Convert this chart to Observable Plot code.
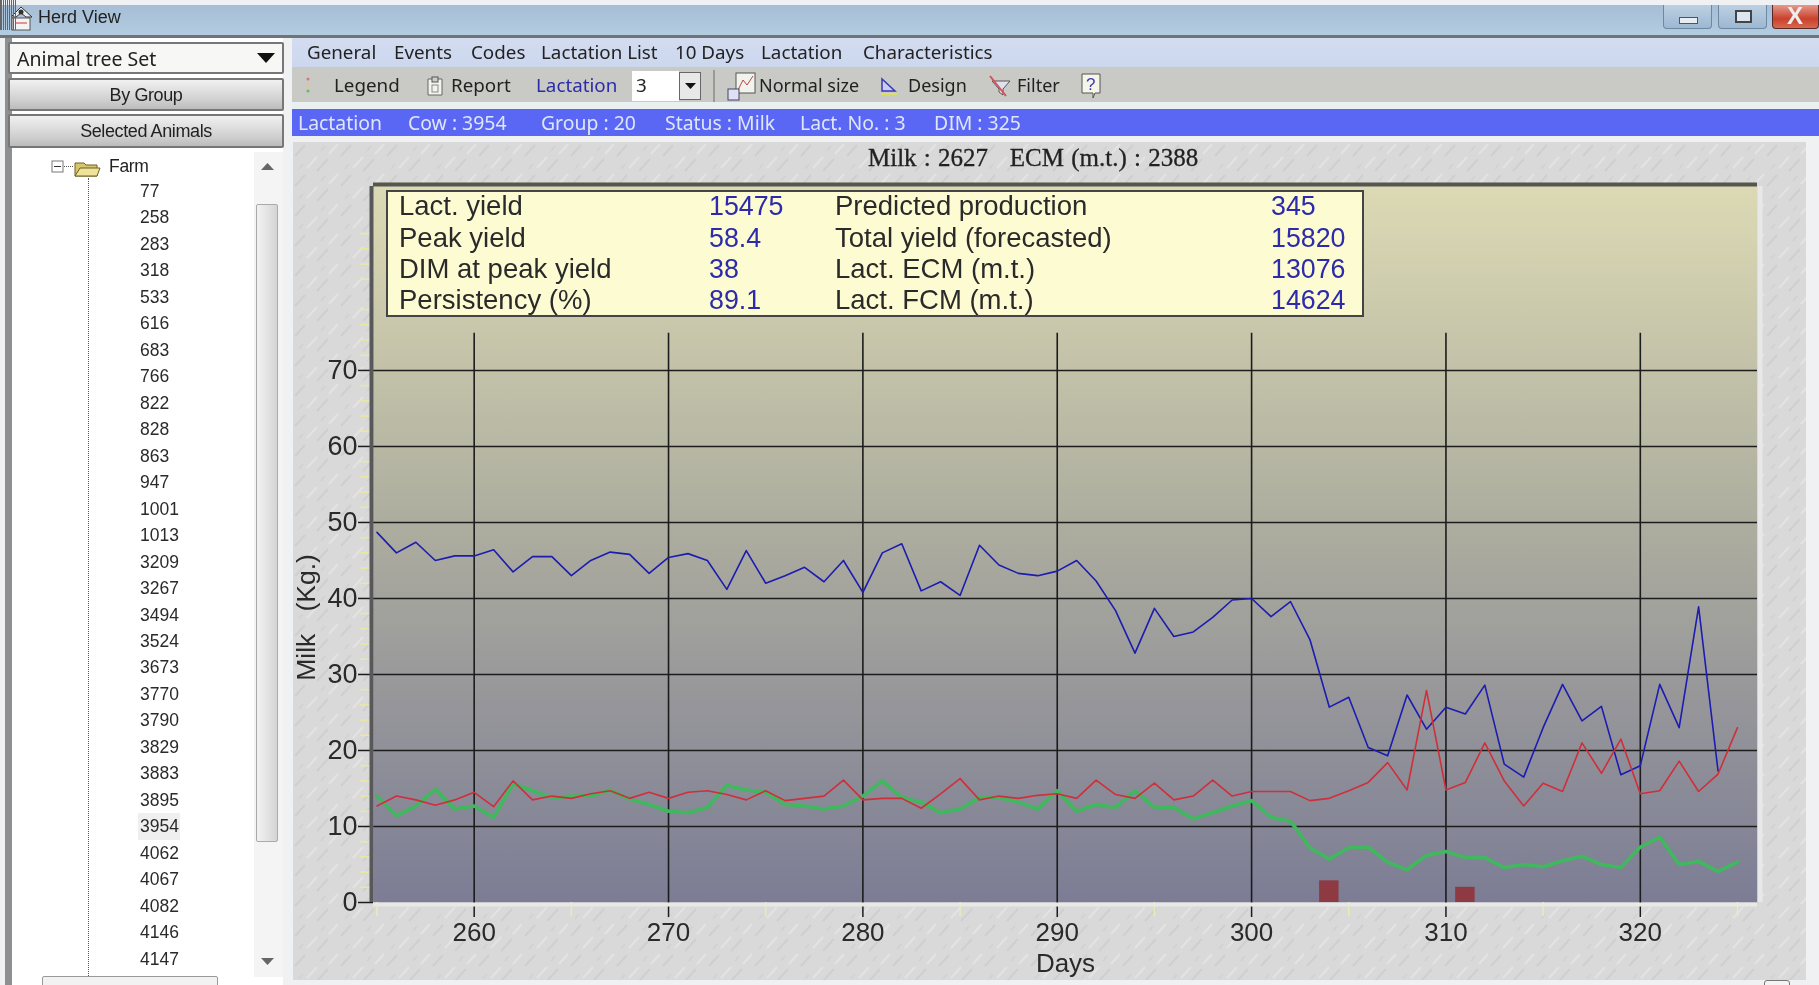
<!DOCTYPE html>
<html>
<head>
<meta charset="utf-8">
<script src="https://cdn.jsdelivr.net/npm/d3@7"></script>
<script src="https://cdn.jsdelivr.net/npm/@observablehq/plot@0.6"></script>
<style>
html,body{margin:0;padding:0;background:#fff;}
#page{position:relative;width:1819px;height:985px;overflow:hidden;background:#f0f1f2;font-family:"Noto Sans",sans-serif;color:#222;filter:blur(.45px);}
#page>*,.a{position:absolute;white-space:nowrap;}
.t{font-size:18.8px;line-height:24px;transform:translateY(-50%);}
#title{left:0;top:5px;width:1819px;height:30px;background:linear-gradient(#a6bdd6,#b4cce0);}
#titleline{left:0;top:35px;width:1819px;height:3px;background:#6f7478;}
#menu{left:292px;top:38px;width:1527px;height:29px;background:linear-gradient(#d3dcf0,#ccd7ee);}
#tools{left:292px;top:67px;width:1527px;height:35px;background:#c9c9c5;}
#strip{left:292px;top:102px;width:1527px;height:7px;background:#eaf0f0;}
#status{left:292px;top:109px;width:1527px;height:27px;background:#5a67f5;}
#texture{left:293px;top:142px;width:1513px;height:838px;background-color:#d9d9d9;
background-image:url("data:image/svg+xml,%3Csvg xmlns='http://www.w3.org/2000/svg' width='46' height='30'%3E%3Cg stroke-width='2' fill='none'%3E%3Cpath d='M2 14L12 3M24 29L35 17' stroke='%23cfcfcf'/%3E%3Cpath d='M14 26L24 15M36 12L45 2' stroke='%23e3e3e3'/%3E%3Cpath d='M6 27L10 22M28 9L32 4' stroke='%23d2d2d2'/%3E%3C/g%3E%3C/svg%3E");}
.winbtn{top:5px;height:24px;width:49px;border:1px solid #6d88a3;border-top:none;border-radius:0 0 4px 4px;box-sizing:border-box;background:linear-gradient(#bcd0e2,#9db8d2);}
#left{left:5px;top:38px;width:278px;height:947px;background:#fff;}
#leftborder{left:5px;top:38px;width:7px;height:947px;background:#8d8f90;}
.btn{left:8px;width:276px;box-sizing:border-box;border:2px solid #777;border-radius:2px;background:linear-gradient(#f1f1f1,#cfcfcf 70%,#bcbcbc);text-align:center;font-family:"Liberation Sans",sans-serif;font-size:18px;letter-spacing:-.4px;color:#222;}
#tree{left:140px;top:178px;font-family:"Liberation Sans",sans-serif;font-size:17.5px;line-height:26.48px;color:#2a2a2a;}
.conn{left:88px;top:178px;width:0;height:800px;border-left:1px dotted #555;}
.row{height:26.48px;}
.row.sel{background:#efefef;width:40px;margin-left:-2px;padding-left:2px;}
.dash{left:90px;width:16px;height:0;border-top:1px dotted #666;}
#scroll{left:254px;top:152px;width:29px;height:825px;background:#f4f4f4;}
#thumb{left:256px;top:204px;width:22px;height:638px;border:1px solid #aaa;box-sizing:border-box;border-radius:2px;background:linear-gradient(90deg,#f2f2f2,#d5d5d5);}
#info{left:386px;top:190px;width:978px;height:127px;box-sizing:border-box;border:2px solid #444;background:#fdfbd2;font-family:"Liberation Sans",sans-serif;font-size:27.5px;color:#2a2a2a;}
#info span{position:absolute;line-height:30px;transform:translateY(-50%);white-space:nowrap;}
#info .v{color:#2b2bac;font-size:26.8px;}
#head{left:868px;top:158px;font-family:"Liberation Serif",serif;font-size:25px;line-height:28px;transform:translateY(-50%);color:#222;-webkit-text-stroke:.3px #222;word-spacing:1px;}
svg{display:block;}
</style>
</head>
<body>
<div id="page">
  <div id="title"></div>
  <svg class="a" style="left:8px;top:5px" width="26" height="26" viewBox="0 0 26 26"><path d="M3 12L13 2L24 12L18 12L13 8L8 12Z" fill="#eee" stroke="#333"/><rect x="4" y="13" width="18" height="12" fill="#f4f4f4" stroke="#555"/><circle cx="13" cy="7" r="2.5" fill="#333"/><path d="M7 18h12" stroke="#c33"/></svg>
  <div class="t" style="left:38px;top:17px;font-family:'Liberation Sans';font-size:18px">Herd View</div>
  <div class="winbtn" style="left:1663px"></div><div class="a" style="left:1679px;top:17px;width:17px;height:5px;background:#e8edf2;border:1px solid #555"></div>
  <div class="winbtn" style="left:1718px"></div><div class="a" style="left:1735px;top:10px;width:13px;height:9px;border:2px solid #444;background:#dce6ef"></div>
  <div class="winbtn" style="left:1772px;width:47px;background:linear-gradient(#e69a8c,#c9412c 60%,#d9694f);border-color:#5a2a2a"></div>
  <div class="t" style="left:1787px;top:16px;color:#eee;font-weight:bold;font-family:'Liberation Sans';font-size:24px">X</div>
  <div id="titleline"></div>
  <div id="left"></div><div id="leftborder"></div>
  <div class="btn" style="top:42px;height:32px;background:#f7f7f5;text-align:left;padding-left:7px;line-height:30px;font-family:'Noto Sans';font-size:19.500px;letter-spacing:0;">Animal tree Set</div>
  <svg class="a" style="left:257px;top:52px" width="18" height="12"><path d="M0 1H18L9 11Z" fill="#111"/></svg>
  <div class="btn" style="top:78px;height:33px;line-height:30px">By Group</div>
  <div class="btn" style="top:114px;height:34px;line-height:31px">Selected Animals</div>
  <div class="conn"></div>
  <div id="dashes"></div>
  <svg class="a" style="left:51px;top:158px" width="50" height="20"><rect x="1" y="3" width="11" height="11" fill="#fff" stroke="#777"/><path d="M3 8.500h7" stroke="#333"/><path d="M13 8.500h10" stroke="#555" stroke-dasharray="1 1"/><path d="M24 5h9l2 2h11v11H24Z" fill="#d9c66a" stroke="#6c6020"/><path d="M24 18l5-8h20l-3 8Z" fill="#efe39b" stroke="#6c6020"/></svg>
  <div class="t" style="left:109px;top:166px;font-family:'Liberation Sans';font-size:17.500px;letter-spacing:-.3px">Farm</div>
  <div id="tree"></div>
  <div id="scroll"></div><div id="thumb"></div>
  <svg class="a" style="left:261px;top:162px" width="14" height="9"><path d="M0 8H13L6.500 1Z" fill="#666"/></svg>
  <svg class="a" style="left:261px;top:957px" width="14" height="9"><path d="M0 1H13L6.500 8Z" fill="#666"/></svg>
  <div class="a" style="left:42px;top:976px;width:174px;height:12px;border:1px solid #999;border-radius:2px;background:#f2f2f2"></div>
  <div id="menu"></div><div id="tools"></div><div id="strip"></div><div id="status"></div>
  <svg class="a" style="left:304px;top:75px" width="8" height="20"><circle cx="4" cy="4" r="1.500" fill="#d77"/><circle cx="4" cy="10" r="1.500" fill="#dc7"/><circle cx="4" cy="16" r="1.500" fill="#6b6"/></svg>
  <svg class="a" style="left:425px;top:75px" width="20" height="22"><path d="M3 4h14v16H3Z" fill="#f4f4ee" stroke="#666"/><rect x="7" y="2" width="6" height="5" fill="#ccc" stroke="#555"/><rect x="7" y="10" width="6" height="7" fill="none" stroke="#888"/></svg>
  <div class="a" style="left:632px;top:71px;width:47px;height:30px;background:#fff"></div>
  <div class="a" style="left:679px;top:72px;width:22px;height:28px;box-sizing:border-box;border:1px solid #666;background:#e8e8e8"></div>
  <svg class="a" style="left:685px;top:83px" width="12" height="7"><path d="M0 0H11L5.500 6Z" fill="#111"/></svg>
  <div class="a" style="left:713px;top:70px;width:2px;height:32px;background:#9a9a96"></div>
  <svg class="a" style="left:727px;top:72px" width="30" height="30"><rect x="9" y="1" width="19" height="20" fill="#f3f3ee" stroke="#555"/><path d="M11 18L16 8L20 13L26 4" fill="none" stroke="#b44"/><rect x="1" y="17" width="11" height="11" fill="#dfe0f4" stroke="#446"/></svg>
  <svg class="a" style="left:879px;top:76px" width="20" height="20"><path d="M3 3V15H16Z" fill="#c8cdf2" stroke="#3a3ab0" stroke-width="1.500"/><path d="M2 18H18" stroke="#dede60" stroke-width="2"/></svg>
  <svg class="a" style="left:988px;top:74px" width="24" height="24"><path d="M4 7H22L15 15V21L11 18V15Z" fill="#dfe2ee" stroke="#555"/><path d="M2 2L18 22" stroke="#d8505a" stroke-width="2"/></svg>
  <svg class="a" style="left:1080px;top:72px" width="22" height="28"><path d="M2 2H20V21H15L13 26V21H2Z" fill="#f5f5ea" stroke="#555"/><text x="6" y="18" font-size="17" font-family="Liberation Sans" fill="#3a3ab0">?</text></svg>
  <div id="menuText"></div>
  <div id="texture"></div>
  <div id="head">Milk : 2627&nbsp;&nbsp;&nbsp;ECM (m.t.) : 2388</div>
  <div id="chart"></div>
  <div id="info"></div>
  <div class="a" style="left:1764px;top:980px;width:24px;height:10px;border:1px solid #777;border-radius:3px;background:#f4f4f4"></div>
</div>
<script>
const cowIds = [77,258,283,318,533,616,683,766,822,828,863,947,1001,1013,3209,3267,3494,3524,3673,3770,3790,3829,3883,3895,3954,4062,4067,4082,4146,4147];
const selectedCow = 3954;
const menuLabels = ["General","Events","Codes","Lactation List","10 Days","Lactation","Characteristics"];
const toolLabels = ["Legend","Report","Lactation","3","Normal size","Design","Filter"];
const statusLabels = ["Lactation","Cow : 3954","Group : 20","Status : Milk","Lact. No. : 3","DIM : 325"];
const infoNames1 = ["Lact. yield","Peak yield","DIM at peak yield","Persistency (%)"];
const infoValues1 = ["15475","58.4","38","89.1"];
const infoNames2 = ["Predicted production","Total yield (forecasted)","Lact. ECM (m.t.)","Lact. FCM (m.t.)"];
const infoValues2 = ["345","15820","13076","14624"];

const firstDay = 255;
const milkBlue = [48.7,46,47.4,45,45.6,45.6,46.4,43.5,45.5,45.5,43,45,46.1,45.8,43.3,45.4,45.9,45,41.2,46.3,42,43,44.1,42.2,45,40.8,
  46,47.2,41,42.2,40.4,47,44.4,43.3,43,43.6,45,42.3,38.4,32.8,38.7,35,35.6,37.5,39.8,40,37.6,39.6,34.6,25.7,27,20.4,19.3,27.3,22.8,
  25.7,24.8,28.6,18.2,16.5,23,28.7,23.9,25.8,16.8,18,28.7,23,38.9,17.3];
const milkRed = [12.7,14,13.5,12.8,13.5,14.5,12.6,16,13.5,14,13.7,14.3,14.7,13.7,14.5,13.7,14.5,14.7,14.2,13.5,14.7,13.4,13.7,14,16.1,13.5,
  13.7,13.7,12.4,14.3,16.3,13.5,14,13.7,14.1,14.3,13.7,16.1,14.2,13.7,15.7,13.5,14,16.1,14,14.6,14.6,14.6,13.4,13.7,14.7,15.8,18.4,14.8,27.9,
  14.8,15.8,21,16,12.7,15.7,14.6,21,17,21.5,14.3,14.7,18.6,14.6,16.9,23];
const milkGreen = [14,11.4,12.7,14.9,12.3,12.7,11.2,15.6,14.7,13.8,14,14,14.8,13.6,12.9,12,11.8,12.5,15.4,14.8,14.5,12.9,12.7,12.3,12.7,14,
  16,13.8,13.2,11.8,12.3,13.8,13.8,13.2,12.3,14.7,12,12.9,12.5,14.7,12.5,12.5,11,11.8,12.7,13.4,11.2,10.7,7.2,5.7,7.2,7.3,5.3,4.3,6.2,
  6.7,5.9,5.9,4.6,5,4.7,5.5,6.1,5,4.6,7.3,8.6,5,5.4,4.1,5.3];
const eventDays = [304,311];
const eventHeights = [2.85,2];
const majorDays = [260,270,280,290,300,310,320];
const minorDays = [255,265,275,285,295,305,315,325];
const yTicks = [0,10,20,30,40,50,60,70];
const yGrid = [10,20,30,40,50,60,70];
const yMinor = [2,4,6,8,12,14,16,18,22,24,26,28,32,34,36,38,42,44,46,48,52,54,56,58,62,64,66,68,72,74,76,78,82,84,86,88];

const toSeries = a => a.map((v,i)=>({day:firstDay+i,v}));
const xDomain=[254.82,326.03], yDomain=[0,94.2], gridTop=74.9;

const chart = Plot.plot({
  width:1529,height:825,
  marginLeft:83,marginRight:62,marginTop:26,marginBottom:83,
  x:{domain:xDomain,axis:null},
  y:{domain:yDomain,axis:null},
  style:{background:"transparent",overflow:"visible",fontFamily:"'Liberation Sans',sans-serif",color:"#2a2a2a"},
  marks:[
    () => {
      const defs=d3.create("svg:defs");
      const g=defs.append("linearGradient").attr("id","panelGrad").attr("x1",0).attr("x2",0).attr("y1",0).attr("y2",1);
      [[0,"#dcdab4"],[.47,"#adad9f"],[.72,"#96969a"],[1,"#7c7d95"]].forEach(([o,c])=>g.append("stop").attr("offset",o).attr("stop-color",c));
      return defs.node();
    },
    Plot.frame({fill:"url(#panelGrad)",stroke:null}),
    Plot.ruleY(yMinor,{x1:xDomain[0],x2:xDomain[0],insetLeft:-13,stroke:"#e9e9a0",strokeWidth:1.5}),
    Plot.ruleX(minorDays,{y1:0,y2:0,insetBottom:-14,stroke:"#ecebb0",strokeWidth:1.5}),
    Plot.axisY({ticks:yTicks,anchor:"left",label:null,tickSize:15,tickPadding:1,fontSize:27,stroke:"#1c1c1c",strokeWidth:1.5}),
    Plot.axisX({ticks:majorDays,anchor:"bottom",label:"Days",labelArrow:"none",labelAnchor:"center",labelOffset:69,tickSize:15,tickPadding:5,fontSize:26,stroke:"#1c1c1c",strokeWidth:1.5,tickFormat:d=>String(d)}),
    Plot.ruleY(yGrid,{stroke:"#1c1c1c",strokeWidth:1.6}),
    Plot.ruleX(majorDays,{y1:0,y2:gridTop,stroke:"#1c1c1c",strokeWidth:1.6}),
    Plot.ruleX([xDomain[1]],{stroke:"#e8e8ea",strokeWidth:5,dx:2.5}),
    Plot.ruleY([0],{stroke:"#e8e8e6",strokeWidth:4,dy:2}),
    Plot.ruleX([xDomain[0]],{stroke:"#58585a",strokeWidth:4,dx:-2}),
    Plot.ruleY([yDomain[1]],{stroke:"#56564a",strokeWidth:4,dy:-2}),
    Plot.rectY(eventDays.map((d,i)=>({d,h:eventHeights[i]})),{x1:r=>r.d-.5,x2:r=>r.d+.5,y1:0,y2:"h",fill:"#8e3a42"}),
    Plot.line(toSeries(milkGreen),{x:"day",y:"v",stroke:"#3fb85e",strokeWidth:3.6,curve:"linear"}),
    Plot.line(toSeries(milkBlue),{x:"day",y:"v",stroke:"#1c1cb0",strokeWidth:1.6,curve:"linear"}),
    Plot.line(toSeries(milkRed),{x:"day",y:"v",stroke:"#cf2f3a",strokeWidth:1.6,curve:"linear"}),
    Plot.text(["Milk\u00a0\u00a0\u00a0(Kg.)"],{frameAnchor:"left",y:[37.5],dx:-67,rotate:-90,fontSize:26.5,textAnchor:"middle",fill:"#2a2a2a"})
  ]
});
chart.style.position="absolute";
document.getElementById("chart").style.cssText="left:290px;top:160px;width:1529px;height:825px;";
document.getElementById("chart").appendChild(chart);

// application chrome
const put=(host,text,left,top,extra="")=>{const s=document.createElement("div");s.className="a t";s.textContent=text;s.style.cssText=`left:${left}px;top:${top}px;${extra}`;host.appendChild(s);};
const mt=document.getElementById("menuText");
[307,394,471,541,675,761,863].forEach((x,i)=>put(mt,menuLabels[i],x,52));
[334,451,536,636,759,908,1017].forEach((x,i)=>put(mt,toolLabels[i],x,85,i===2?"color:#2c2ca8":(i>=4?"font-size:18px":"")));
[298,408,541,665,800,934].forEach((x,i)=>put(mt,statusLabels[i],x,123,"color:#dfe6f7;font-size:19.4px"));
document.getElementById("tree").innerHTML=cowIds.map(c=>`<div class="row${c===selectedCow?" sel":""}">${c}</div>`).join("");
document.getElementById("dashes").innerHTML=cowIds.map((c,i)=>`<div class="dash" style="top:${191+i*26.48}px"></div>`).join("");
const info=document.getElementById("info");
const rowY=[15,47,78,109];
[[infoNames1,11,""],[infoValues1,321,"v"],[infoNames2,447,""],[infoValues2,883,"v"]].forEach(([col,x,cls])=>{
  col.forEach((txt,i)=>{const s=document.createElement("span");s.textContent=txt;s.className=cls;s.style.left=x+"px";s.style.top=rowY[i]-1+"px";info.appendChild(s);});
});
</script>
</body>
</html>
